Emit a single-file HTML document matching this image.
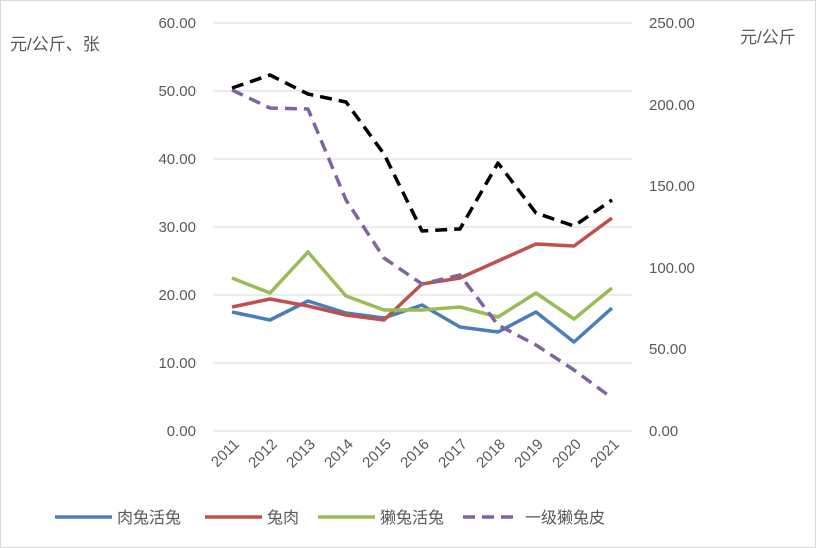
<!DOCTYPE html>
<html><head><meta charset="utf-8"><style>
body{margin:0;background:#fff}
svg{display:block;font-family:"Liberation Sans","Noto Sans CJK SC",sans-serif}
</style></head><body>
<svg width="816" height="548" viewBox="0 0 816 548">
<rect x="0.5" y="0.5" width="815" height="547" fill="#fff" stroke="#d9d9d9"/>
<g stroke="#d9d9d9" stroke-width="1">
<line x1="213" x2="632" y1="23" y2="23"/>
<line x1="213" x2="632" y1="91" y2="91"/>
<line x1="213" x2="632" y1="159" y2="159"/>
<line x1="213" x2="632" y1="227" y2="227"/>
<line x1="213" x2="632" y1="295" y2="295"/>
<line x1="213" x2="632" y1="363" y2="363"/>
<line x1="213" x2="632" y1="431" y2="431"/>
</g>
<g font-size="15" fill="#595959" text-anchor="end">
<text x="196" y="28">60.00</text><text x="196" y="96">50.00</text><text x="196" y="164">40.00</text>
<text x="196" y="232">30.00</text><text x="196" y="300">20.00</text><text x="196" y="368">10.00</text><text x="196" y="436">0.00</text>
</g>
<g font-size="15" fill="#595959" text-anchor="start">
<text x="649" y="28">250.00</text><text x="649" y="110">200.00</text><text x="649" y="191">150.00</text>
<text x="649" y="273">100.00</text><text x="649" y="354">50.00</text><text x="649" y="436">0.00</text>
</g>
<text x="10" y="50" font-size="17" fill="#595959">元/公斤、张</text>
<text x="740" y="43" font-size="17" fill="#595959">元/公斤</text>
<g font-size="15" fill="#595959" text-anchor="end">
<text transform="translate(240,445) rotate(-45)">2011</text>
<text transform="translate(278,445) rotate(-45)">2012</text>
<text transform="translate(316,445) rotate(-45)">2013</text>
<text transform="translate(354,445) rotate(-45)">2014</text>
<text transform="translate(392,445) rotate(-45)">2015</text>
<text transform="translate(430,445) rotate(-45)">2016</text>
<text transform="translate(468,445) rotate(-45)">2017</text>
<text transform="translate(506,445) rotate(-45)">2018</text>
<text transform="translate(544,445) rotate(-45)">2019</text>
<text transform="translate(582,445) rotate(-45)">2020</text>
<text transform="translate(620,445) rotate(-45)">2021</text>
</g>
<g fill="none" stroke-width="3.5" stroke-linejoin="round">
<polyline stroke="#4a7ebb" points="232,312 270,320 308,301 346,313 384,318 422,305 460,327 498,332 536,312 574,342 612,308"/>
<polyline stroke="#c0504d" points="232,307 270,299 308,306 346,315 384,320 422,284 460,278 498,261 536,244 574,246 612,218"/>
<polyline stroke="#9bbb59" points="232,278 270,293 308,252 346,296 384,310 422,310 460,307 498,317 536,293 574,319 612,288"/>
<polyline stroke="#8064a2" stroke-dasharray="12,7" points="232,90 270,108 308,109 346,200 384,258 422,284 460,275 498,325 536,345 574,370 612,398"/>
<polyline stroke="#000" stroke-dasharray="12,7" points="232,88 270,75 308,94 346,102 384,154 422,231 460,229 498,163 536,213 574,226 612,200"/>
</g>
<g font-size="16" fill="#595959" stroke-width="3.5">
<line x1="55" x2="112" y1="517" y2="517" stroke="#4a7ebb"/><text x="117" y="523">肉兔活兔</text>
<line x1="205" x2="262" y1="517" y2="517" stroke="#c0504d"/><text x="267" y="523">兔肉</text>
<line x1="318" x2="375" y1="517" y2="517" stroke="#9bbb59"/><text x="380" y="523">獭兔活兔</text>
<line x1="463" x2="520" y1="517" y2="517" stroke="#8064a2" stroke-dasharray="12,7"/><text x="525" y="523">一级獭兔皮</text>
</g>
</svg>
</body></html>
